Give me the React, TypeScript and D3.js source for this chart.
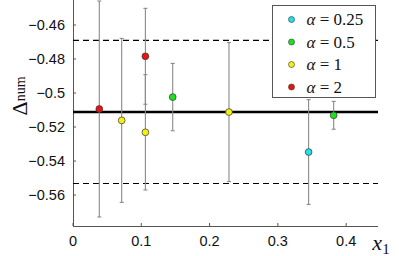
import { useEffect, useRef } from "react";
import * as d3 from "d3";

const seriesNames = ["0.25", "0.5", "1", "2"];
const seriesColors = ["#22e0e6", "#1fe01f", "#f5f010", "#f01010"];

// x1, Δnum, half-width of error bar, series index
const pointX = [0.0385, 0.0713, 0.106, 0.106, 0.146, 0.2284, 0.345, 0.3817];
const pointY = [-0.5094, -0.5161, -0.4784, -0.5231, -0.5024, -0.5112, -0.5347, -0.5131];
const pointErr = [0.0635, 0.0482, 0.0282, 0.0339, 0.0198, 0.0409, 0.0308, 0.0082];
const pointSeries = [3, 2, 3, 2, 1, 2, 0, 1];

const meanLine = -0.5112;
const bandLines = [-0.469, -0.5532];

const xTicks = [0, 0.1, 0.2, 0.3, 0.4];
const yTicks = [-0.46, -0.48, -0.5, -0.52, -0.54, -0.56];

export default function App() {
  const ref = useRef<SVGSVGElement>(null);

  useEffect(() => {
    const el = ref.current;
    if (!el) return;
    const W = 399, H = 256, M = { top: 0, right: 21, bottom: 30, left: 73 };
    const svg = d3.select(el);
    svg.selectAll("*").remove();

    const x = d3.scaleLinear().domain([0, 0.4466]).range([M.left, W - M.right]);
    const y = d3.scaleLinear().domain([-0.5782, -0.4453]).range([H - M.bottom, M.top]);
    const fmt = (v: number) => (v === 0 ? "0" : d3.format(".2~f")(v).replace("-", "\u2212"));

    // axes
    const ax = svg.append("g").attr("stroke", "#555").attr("stroke-width", 1);
    ax.append("line").attr("x1", M.left).attr("x2", W - M.right).attr("y1", y.range()[0] + 0.5).attr("y2", y.range()[0] + 0.5);
    ax.append("line").attr("x1", M.left + 0.5).attr("x2", M.left + 0.5).attr("y1", 0).attr("y2", y.range()[0]);
    ax.selectAll("line.xt").data(xTicks).join("line")
      .attr("x1", (d) => x(d)).attr("x2", (d) => x(d)).attr("y1", y.range()[0]).attr("y2", y.range()[0] - 3);
    ax.selectAll("line.yt").data(yTicks).join("line")
      .attr("x1", M.left).attr("x2", M.left + 3).attr("y1", (d) => y(d)).attr("y2", (d) => y(d));

    svg.append("g").selectAll("text").data(xTicks).join("text")
      .attr("x", (d) => x(d)).attr("y", y.range()[0] + 20).attr("text-anchor", "middle")
      .attr("font-family", "Liberation Sans, Arial, sans-serif").attr("font-size", 14.5).attr("fill", "#111")
      .text(fmt);
    svg.append("g").selectAll("text").data(yTicks).join("text")
      .attr("x", M.left - 8).attr("y", (d) => y(d) + 5).attr("text-anchor", "end")
      .attr("font-family", "Liberation Sans, Arial, sans-serif").attr("font-size", 14.5).attr("fill", "#111")
      .text(fmt);

    // reference lines
    svg.append("g").selectAll("line").data(bandLines).join("line")
      .attr("x1", M.left).attr("x2", W - M.right).attr("y1", (d) => y(d)).attr("y2", (d) => y(d))
      .attr("stroke", "#000").attr("stroke-width", 1.2).attr("stroke-dasharray", "6,4");
    svg.append("line").attr("x1", M.left).attr("x2", W - M.right).attr("y1", y(meanLine)).attr("y2", y(meanLine))
      .attr("stroke", "#000").attr("stroke-width", 2.6);

    const idx = d3.range(pointX.length);
    // error bars
    const eb = svg.append("g").attr("stroke", "#8a8a8a").attr("stroke-width", 1.1);
    eb.selectAll("line.v").data(idx).join("line")
      .attr("x1", (i) => x(pointX[i])).attr("x2", (i) => x(pointX[i]))
      .attr("y1", (i) => y(pointY[i] + pointErr[i])).attr("y2", (i) => y(pointY[i] - pointErr[i]));
    eb.selectAll("line.t").data(idx).join("line")
      .attr("x1", (i) => x(pointX[i]) - 2).attr("x2", (i) => x(pointX[i]) + 2)
      .attr("y1", (i) => y(pointY[i] + pointErr[i])).attr("y2", (i) => y(pointY[i] + pointErr[i]));
    eb.selectAll("line.b").data(idx).join("line")
      .attr("x1", (i) => x(pointX[i]) - 2).attr("x2", (i) => x(pointX[i]) + 2)
      .attr("y1", (i) => y(pointY[i] - pointErr[i])).attr("y2", (i) => y(pointY[i] - pointErr[i]));

    svg.append("g").selectAll("circle").data(idx).join("circle")
      .attr("cx", (i) => x(pointX[i])).attr("cy", (i) => y(pointY[i])).attr("r", 3.4)
      .attr("fill", (i) => seriesColors[pointSeries[i]]).attr("stroke", "#333").attr("stroke-width", 0.7);

    // legend
    const lg = svg.append("g").attr("transform", "translate(272.5,5.5)");
    lg.append("rect").attr("width", 103).attr("height", 92).attr("fill", "#fff").attr("stroke", "#555").attr("stroke-width", 1);
    const row = lg.selectAll("g").data(seriesNames).join("g").attr("transform", (_, i) => `translate(0,${14 + i * 22.5})`);
    row.append("circle").attr("cx", 19).attr("cy", 0).attr("r", 3).attr("fill", (_, i) => seriesColors[i])
      .attr("stroke", "#333").attr("stroke-width", 0.6);
    const t = row.append("text").attr("x", 34).attr("y", 5.5).attr("font-family", "Liberation Serif, serif")
      .attr("font-size", 17).attr("fill", "#111");
    t.append("tspan").attr("font-style", "italic").text("\u03b1");
    t.append("tspan").text((d) => ` = ${d}`);

    // axis titles
    svg.append("text").attr("x", 381).attr("y", 250).attr("font-family", "Liberation Serif, serif")
      .attr("font-size", 22).attr("font-style", "italic").attr("fill", "#111").attr("text-anchor", "middle")
      .text("x").append("tspan").attr("font-style", "normal").attr("font-size", 15).attr("dy", 4).text("1");
    const yl = svg.append("text").attr("transform", "translate(27,96) rotate(-90)").attr("text-anchor", "middle")
      .attr("font-family", "Liberation Serif, serif").attr("fill", "#111");
    yl.append("tspan").attr("font-size", 22).text("\u0394");
    yl.append("tspan").attr("font-size", 14).attr("dy", -2).text("num");
  }, []);

  return (
    <svg ref={ref} width={399} height={256} style={{ position: "absolute", left: 0, top: 0, background: "#fff" }} />
  );
}
